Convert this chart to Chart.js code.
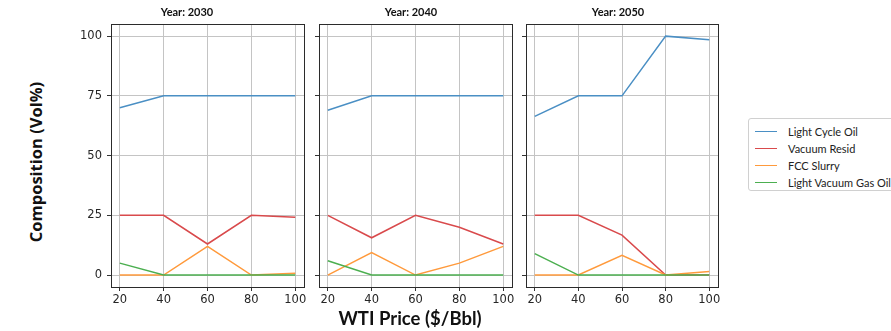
<!DOCTYPE html>
<html>
<head>
<meta charset="utf-8">
<script src="https://cdn.jsdelivr.net/npm/chart.js@4/dist/chart.umd.min.js"></script>
<style>
  html, body { margin: 0; padding: 0; background: #ffffff; }
  body { width: 891px; height: 331px; position: relative; overflow: hidden; }
  canvas { position: absolute; top: 0; }
  .ylabel {
    position: absolute; left: 35px; top: 162px;
    transform: translate(-50%, -50%) rotate(-90deg);
    font: bold 16.5px "Open Sans", Lato, sans-serif; color: #111; white-space: nowrap;
  }
  .xlabel {
    position: absolute; left: 410px; top: 318px;
    transform: translate(-50%, -50%);
    font: bold 18.5px Lato, "Open Sans", sans-serif; color: #111; white-space: nowrap;
  }
  .legend {
    position: absolute; left: 748px; top: 118px; width: 150px; height: 73px;
    border: 1px solid #d0d0d0; border-radius: 3px; box-sizing: border-box; background: #fff;
    font: 11px Lato, "Open Sans", sans-serif; color: #222;
  }
  .legend .item { position: absolute; left: 6px; height: 14px; display: flex; align-items: center; }
  .legend .swatch { width: 22px; height: 0; border-top: 1.5px solid; margin-right: 11px; }
</style>
</head>
<body>
<canvas id="p0" width="240" height="309" style="left:70px"></canvas>
<canvas id="p1" width="208" height="309" style="left:310px"></canvas>
<canvas id="p2" width="206" height="309" style="left:518px"></canvas>
<div class="ylabel">Composition (Vol%)</div>
<div class="xlabel">WTI Price ($/Bbl)</div>
<div class="legend" id="legend"></div>
<script>
// WTI price points and one panel per year
const prices = [20, 40, 60, 80, 100];
const years = ['2030', '2040', '2050'];
const yTickValues = [0, 25, 50, 75, 100];
const xTickValues = [20, 40, 60, 80, 100];

// Composition (Vol%) per year, one row per panel
const lightCycleOil    = [[70, 75, 75, 75, 75], [69, 75, 75, 75, 75], [66.4, 75, 75, 100, 98.5]];
const vacuumResid      = [[25, 25, 13, 25, 24.2], [25, 15.6, 25, 20, 13], [25, 25, 16.7, 0, 0]];
const fccSlurry        = [[0, 0, 12, 0, 0.8], [0, 9.4, 0, 5, 12], [0, 0, 8.3, 0, 1.5]];
const lightVacuumGasOil = [[5, 0, 0, 0, 0], [6, 0, 0, 0, 0], [9, 0, 0, 0, 0]];

const seriesNames = ['Light Cycle Oil', 'Vacuum Resid', 'FCC Slurry', 'Light Vacuum Gas Oil'];
const seriesData = [lightCycleOil, vacuumResid, fccSlurry, lightVacuumGasOil];
const seriesColors = ['#4a8fc4', '#d94a4c', '#ff9a3c', '#4caf50'];

// Panel geometry: y-axis width so the frames line up
const panelAxisWidth = [41, 9, 8];

// Full rectangular frame around each plot area
const framePlugin = {
  id: 'frame',
  afterDatasetsDraw(chart) {
    const a = chart.chartArea;
    const ctx = chart.ctx;
    ctx.save();
    ctx.strokeStyle = '#2b2b2b';
    ctx.lineWidth = 1;
    ctx.strokeRect(Math.round(a.left) + 0.5, Math.round(a.top) + 0.5,
                   Math.round(a.right - a.left), Math.round(a.bottom - a.top));
    ctx.restore();
  }
};

years.forEach((year, p) => {
  const datasets = seriesNames.map((name, s) => ({
    label: name,
    data: prices.map((x, i) => ({ x, y: seriesData[s][p][i] })),
    borderColor: seriesColors[s],
    backgroundColor: seriesColors[s],
    borderWidth: 1.5,
    pointRadius: 0,
    tension: 0,
    fill: false,
    order: seriesNames.length - s
  }));

  new Chart(document.getElementById('p' + p), {
    type: 'line',
    data: { datasets },
    plugins: [framePlugin],
    options: {
      responsive: false,
      animation: false,
      devicePixelRatio: 1,
      layout: { padding: { left: 0, right: 6, top: 0, bottom: 0 } },
      plugins: {
        legend: { display: false },
        tooltip: { enabled: false },
        title: {
          display: true,
          text: 'Year: ' + year,
          color: '#111',
          font: { family: 'Lato, "Open Sans", sans-serif', size: 11, weight: 'bold', lineHeight: 1.2 },
          padding: { top: 6, bottom: 5 }
        }
      },
      scales: {
        x: {
          type: 'linear',
          min: 16, max: 104,
          afterBuildTicks: (scale) => { scale.ticks = xTickValues.map(v => ({ value: v })); },
          afterFit: (scale) => { scale.height = 22; },
          border: { display: false },
          grid: { color: '#c4c4c4', lineWidth: 1, tickColor: '#333', tickLength: 4, drawTicks: true },
          ticks: {
            color: '#262626', padding: 2, maxRotation: 0, autoSkip: false,
            font: { family: '"DejaVu Sans", sans-serif', size: 11.5 }
          }
        },
        y: {
          type: 'linear',
          min: -5, max: 105,
          afterBuildTicks: (scale) => { scale.ticks = yTickValues.map(v => ({ value: v })); },
          afterFit: (scale) => { scale.width = panelAxisWidth[p]; },
          border: { display: false },
          grid: { color: '#c4c4c4', lineWidth: 1, tickColor: '#333', tickLength: 4, drawTicks: true },
          ticks: {
            color: '#262626', padding: 5,
            font: { family: '"DejaVu Sans", sans-serif', size: 11.5 },
            callback: (v) => (p === 0 ? String(v) : '')
          }
        }
      }
    }
  });
});

// Legend built from the series definitions
const legend = document.getElementById('legend');
seriesNames.forEach((name, s) => {
  const item = document.createElement('div');
  item.className = 'item';
  item.style.top = (5 + s * 17) + 'px';
  const sw = document.createElement('span');
  sw.className = 'swatch';
  sw.style.borderTopColor = seriesColors[s];
  const tx = document.createElement('span');
  tx.textContent = name;
  item.appendChild(sw);
  item.appendChild(tx);
  legend.appendChild(item);
});
</script>
</body>
</html>
